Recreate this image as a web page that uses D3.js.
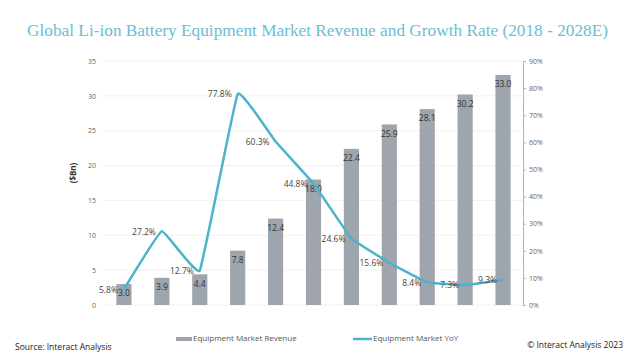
<!DOCTYPE html>
<html>
<head>
<meta charset="utf-8">
<script src="https://cdn.jsdelivr.net/npm/d3@7"></script>
<style>
  body { margin: 0; background: #fff; }
  svg { display: block; font-family: "Open Sans", "Noto Sans", sans-serif; }
</style>
</head>
<body>
<div class="chart"></div>
<script>
var years = ["2018", "2019", "2020", "2021", "2022", "2023", "2024", "2025", "2026", "2027", "2028E"];
var revenue = [3.0, 3.9, 4.4, 7.8, 12.4, 18.0, 22.4, 25.9, 28.1, 30.2, 33.0];
var yoy = [5.8, 27.2, 12.7, 77.8, 60.3, 44.8, 24.6, 15.6, 8.4, 7.3, 9.3];
var leftTicks = [0, 5, 10, 15, 20, 25, 30, 35];
var rightTicks = [0, 10, 20, 30, 40, 50, 60, 70, 80, 90];

var width = 642, height = 361;
var barColor = "#9ea5ad", lineColor = "#4cb3cc";

var svg = d3.select(".chart").append("svg")
    .attr("width", width)
    .attr("height", height);

var x = d3.scaleBand()
    .domain(years)
    .range([105, 522])
    .paddingInner(0.6)
    .paddingOuter(0.3);

var y = d3.scaleLinear().domain([0, 35]).range([305, 61]);
var y2 = d3.scaleLinear().domain([0, 90]).range([305, 61]);

// title
svg.append("text")
    .attr("x", 27)
    .attr("y", 36)
    .attr("textLength", 581)
    .attr("lengthAdjust", "spacingAndGlyphs")
    .style("font-family", "'Liberation Serif', 'DejaVu Serif', serif")
    .style("font-size", "17px")
    .style("fill", "#6cbdd3")
    .text("Global Li-ion Battery Equipment Market Revenue and Growth Rate (2018 - 2028E)");

// gridlines
svg.append("g")
  .selectAll("line")
  .data(leftTicks)
  .enter().append("line")
    .attr("x1", 103)
    .attr("x2", 523)
    .attr("y1", function(d) { return y(d); })
    .attr("y2", function(d) { return y(d); })
    .style("stroke", "#f1f1f1")
    .style("stroke-width", 1);

// left axis
var yAxis = d3.axisLeft(y).tickValues(leftTicks).tickSize(0).tickPadding(0);
var gl = svg.append("g")
    .attr("transform", "translate(96,0)")
    .call(yAxis);
gl.select(".domain").remove();
gl.selectAll("text").style("font-size", "7px").style("fill", "#666").style("font-family", "'Open Sans', sans-serif");

// right axis
var yAxis2 = d3.axisRight(y2).tickValues(rightTicks).tickSize(3).tickPadding(3)
    .tickFormat(function(d) { return d + "%"; });
var gr = svg.append("g")
    .attr("transform", "translate(523,0)")
    .call(yAxis2);
gr.select(".domain").attr("stroke", "#b5b5b5");
gr.selectAll(".tick line").attr("stroke", "#b5b5b5");
gr.selectAll("text").style("font-size", "7px").style("fill", "#666").style("font-family", "'Open Sans', sans-serif");

// y axis title
svg.append("text")
    .attr("transform", "translate(76,173) rotate(-90)")
    .attr("text-anchor", "middle")
    .style("font-size", "8px")
    .style("font-weight", "bold")
    .style("fill", "#333")
    .text("($Bn)");

// bars
svg.append("g").selectAll("rect")
    .data(revenue)
    .enter().append("rect")
    .attr("x", function(d, i) { return x(years[i]); })
    .attr("y", function(d) { return y(d); })
    .attr("width", x.bandwidth())
    .attr("height", function(d) { return y(0) - y(d); })
    .style("fill", barColor);

svg.append("g").selectAll("text")
    .data(revenue)
    .enter().append("text")
    .attr("x", function(d, i) { return x(years[i]) + x.bandwidth() / 2; })
    .attr("y", function(d) { return y(d) + 10; })
    .attr("text-anchor", "middle")
    .attr("dominant-baseline", "middle")
    .style("font-size", "8.5px")
    .style("fill", "#333")
    .text(function(d) { return d.toFixed(1); });

// line
var line = d3.line()
    .x(function(d, i) { return x(years[i]) + x.bandwidth() / 2; })
    .y(function(d) { return y2(d); })
    .curve(d3.curveCardinal.tension(0.75));

svg.append("path")
    .datum(yoy)
    .attr("d", line)
    .style("fill", "none")
    .style("stroke", lineColor)
    .style("stroke-width", 2.5)
    .style("stroke-linejoin", "round");

svg.append("g").selectAll("text")
    .data(yoy)
    .enter().append("text")
    .attr("x", function(d, i) { return x(years[i]) + x.bandwidth() / 2 - 6; })
    .attr("y", function(d) { return y2(d) + 1; })
    .attr("text-anchor", "end")
    .attr("dominant-baseline", "middle")
    .style("font-size", "8.5px")
    .style("fill", "#444")
    .text(function(d) { return d.toFixed(1) + "%"; });

// legend
var legend = svg.append("g").style("font-size", "8px").style("fill", "#555");
legend.append("rect")
    .attr("x", 176).attr("y", 337).attr("width", 16).attr("height", 4)
    .style("fill", barColor);
legend.append("text")
    .attr("x", 193).attr("y", 339)
    .attr("dominant-baseline", "middle")
    .text("Equipment Market Revenue");
legend.append("line")
    .attr("x1", 353).attr("x2", 372).attr("y1", 339).attr("y2", 339)
    .style("stroke", lineColor).style("stroke-width", 2.5);
legend.append("text")
    .attr("x", 373).attr("y", 339)
    .attr("dominant-baseline", "middle")
    .text("Equipment Market YoY");

// footer
svg.append("text")
    .attr("x", 15).attr("y", 348)
    .attr("dominant-baseline", "middle")
    .style("font-size", "8.5px")
    .style("fill", "#222")
    .text("Source: Interact Analysis");

svg.append("text")
    .attr("x", 623).attr("y", 346)
    .attr("text-anchor", "end")
    .attr("dominant-baseline", "middle")
    .style("font-size", "8.5px")
    .style("fill", "#222")
    .text("© Interact Analysis 2023");
</script>
</body>
</html>
